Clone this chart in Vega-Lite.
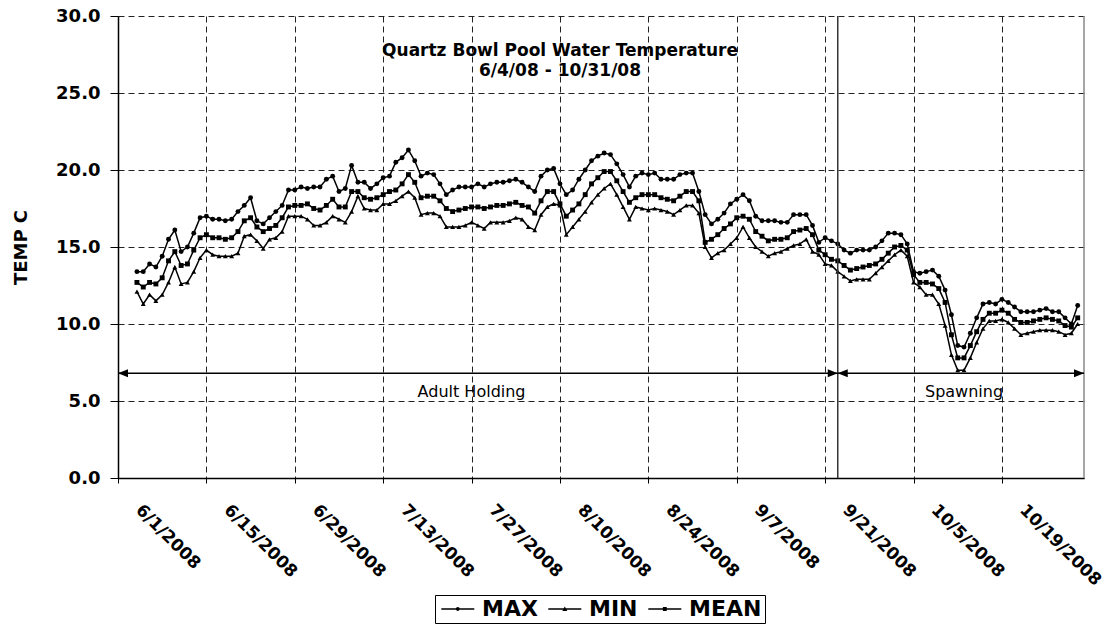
{
  "$schema": "https://vega.github.io/schema/vega-lite/v6.json",
  "width": 966,
  "height": 462,
  "autosize": "none",
  "padding": {"left": 118, "top": 16, "right": 23, "bottom": 147},
  "background": "white",
  "config": {"view": {"stroke": null}, "font": "DejaVu Sans"},
  "title": {
    "text": ["Quartz Bowl Pool Water Temperature", "6/4/08 - 10/31/08"],
    "font": "DejaVu Sans",
    "fontSize": 17,
    "fontWeight": "bold",
    "color": "black",
    "frame": "group",
    "anchor": "middle",
    "dx": -41,
    "offset": -73,
    "baseline": "top",
    "lineHeight": 20
  },
  "datasets": {
    "temps": [
      {"date": "2008-06-04", "MAX": 13.4, "MIN": 12.1, "MEAN": 12.7},
      {"date": "2008-06-05", "MAX": 13.4, "MIN": 11.3, "MEAN": 12.4},
      {"date": "2008-06-06", "MAX": 13.9, "MIN": 11.9, "MEAN": 12.7},
      {"date": "2008-06-07", "MAX": 13.7, "MIN": 11.5, "MEAN": 12.6},
      {"date": "2008-06-08", "MAX": 14.4, "MIN": 11.9, "MEAN": 13.0},
      {"date": "2008-06-09", "MAX": 15.5, "MIN": 12.7, "MEAN": 14.1},
      {"date": "2008-06-10", "MAX": 16.1, "MIN": 13.7, "MEAN": 14.7},
      {"date": "2008-06-11", "MAX": 14.7, "MIN": 12.6, "MEAN": 13.8},
      {"date": "2008-06-12", "MAX": 15.0, "MIN": 12.7, "MEAN": 13.9},
      {"date": "2008-06-13", "MAX": 15.9, "MIN": 13.4, "MEAN": 14.8},
      {"date": "2008-06-14", "MAX": 16.9, "MIN": 14.3, "MEAN": 15.6},
      {"date": "2008-06-15", "MAX": 17.0, "MIN": 14.8, "MEAN": 15.8},
      {"date": "2008-06-16", "MAX": 16.8, "MIN": 14.5, "MEAN": 15.6},
      {"date": "2008-06-17", "MAX": 16.8, "MIN": 14.4, "MEAN": 15.6},
      {"date": "2008-06-18", "MAX": 16.7, "MIN": 14.4, "MEAN": 15.5},
      {"date": "2008-06-19", "MAX": 16.8, "MIN": 14.4, "MEAN": 15.6},
      {"date": "2008-06-20", "MAX": 17.3, "MIN": 14.6, "MEAN": 16.0},
      {"date": "2008-06-21", "MAX": 17.7, "MIN": 15.7, "MEAN": 16.7},
      {"date": "2008-06-22", "MAX": 18.2, "MIN": 15.8, "MEAN": 16.9},
      {"date": "2008-06-23", "MAX": 16.7, "MIN": 15.4, "MEAN": 16.3},
      {"date": "2008-06-24", "MAX": 16.5, "MIN": 14.9, "MEAN": 16.0},
      {"date": "2008-06-25", "MAX": 16.9, "MIN": 15.5, "MEAN": 16.2},
      {"date": "2008-06-26", "MAX": 17.3, "MIN": 15.6, "MEAN": 16.4},
      {"date": "2008-06-27", "MAX": 17.7, "MIN": 16.0, "MEAN": 16.9},
      {"date": "2008-06-28", "MAX": 18.7, "MIN": 17.0, "MEAN": 17.6},
      {"date": "2008-06-29", "MAX": 18.7, "MIN": 17.0, "MEAN": 17.7},
      {"date": "2008-06-30", "MAX": 18.9, "MIN": 17.0, "MEAN": 17.7},
      {"date": "2008-07-01", "MAX": 18.8, "MIN": 16.8, "MEAN": 17.8},
      {"date": "2008-07-02", "MAX": 18.9, "MIN": 16.4, "MEAN": 17.5},
      {"date": "2008-07-03", "MAX": 18.9, "MIN": 16.4, "MEAN": 17.4},
      {"date": "2008-07-04", "MAX": 19.4, "MIN": 16.6, "MEAN": 17.7},
      {"date": "2008-07-05", "MAX": 19.6, "MIN": 17.0, "MEAN": 18.1},
      {"date": "2008-07-06", "MAX": 18.6, "MIN": 16.8, "MEAN": 17.6},
      {"date": "2008-07-07", "MAX": 18.8, "MIN": 16.6, "MEAN": 17.6},
      {"date": "2008-07-08", "MAX": 20.3, "MIN": 17.3, "MEAN": 18.6},
      {"date": "2008-07-09", "MAX": 19.2, "MIN": 18.3, "MEAN": 18.6},
      {"date": "2008-07-10", "MAX": 19.2, "MIN": 17.5, "MEAN": 18.2},
      {"date": "2008-07-11", "MAX": 18.8, "MIN": 17.4, "MEAN": 18.1},
      {"date": "2008-07-12", "MAX": 19.1, "MIN": 17.4, "MEAN": 18.2},
      {"date": "2008-07-13", "MAX": 19.5, "MIN": 17.8, "MEAN": 18.4},
      {"date": "2008-07-14", "MAX": 19.6, "MIN": 17.8, "MEAN": 18.6},
      {"date": "2008-07-15", "MAX": 20.5, "MIN": 18.0, "MEAN": 18.7},
      {"date": "2008-07-16", "MAX": 20.8, "MIN": 18.3, "MEAN": 19.1},
      {"date": "2008-07-17", "MAX": 21.3, "MIN": 18.6, "MEAN": 19.7},
      {"date": "2008-07-18", "MAX": 20.6, "MIN": 18.2, "MEAN": 19.2},
      {"date": "2008-07-19", "MAX": 19.6, "MIN": 17.1, "MEAN": 18.2},
      {"date": "2008-07-20", "MAX": 19.8, "MIN": 17.2, "MEAN": 18.3},
      {"date": "2008-07-21", "MAX": 19.7, "MIN": 17.2, "MEAN": 18.3},
      {"date": "2008-07-22", "MAX": 19.1, "MIN": 17.0, "MEAN": 18.0},
      {"date": "2008-07-23", "MAX": 18.4, "MIN": 16.3, "MEAN": 17.5},
      {"date": "2008-07-24", "MAX": 18.7, "MIN": 16.3, "MEAN": 17.3},
      {"date": "2008-07-25", "MAX": 18.9, "MIN": 16.3, "MEAN": 17.4},
      {"date": "2008-07-26", "MAX": 18.9, "MIN": 16.4, "MEAN": 17.5},
      {"date": "2008-07-27", "MAX": 18.9, "MIN": 16.6, "MEAN": 17.6},
      {"date": "2008-07-28", "MAX": 19.1, "MIN": 16.4, "MEAN": 17.6},
      {"date": "2008-07-29", "MAX": 18.9, "MIN": 16.2, "MEAN": 17.5},
      {"date": "2008-07-30", "MAX": 19.1, "MIN": 16.6, "MEAN": 17.6},
      {"date": "2008-07-31", "MAX": 19.2, "MIN": 16.6, "MEAN": 17.7},
      {"date": "2008-08-01", "MAX": 19.2, "MIN": 16.6, "MEAN": 17.7},
      {"date": "2008-08-02", "MAX": 19.3, "MIN": 16.7, "MEAN": 17.8},
      {"date": "2008-08-03", "MAX": 19.4, "MIN": 16.9, "MEAN": 17.9},
      {"date": "2008-08-04", "MAX": 19.2, "MIN": 16.8, "MEAN": 17.7},
      {"date": "2008-08-05", "MAX": 18.9, "MIN": 16.3, "MEAN": 17.6},
      {"date": "2008-08-06", "MAX": 18.6, "MIN": 16.1, "MEAN": 17.2},
      {"date": "2008-08-07", "MAX": 19.6, "MIN": 17.1, "MEAN": 18.0},
      {"date": "2008-08-08", "MAX": 20.0, "MIN": 17.6, "MEAN": 18.6},
      {"date": "2008-08-09", "MAX": 20.1, "MIN": 17.8, "MEAN": 18.6},
      {"date": "2008-08-10", "MAX": 19.1, "MIN": 17.7, "MEAN": 17.8},
      {"date": "2008-08-11", "MAX": 18.4, "MIN": 15.8, "MEAN": 17.0},
      {"date": "2008-08-12", "MAX": 18.7, "MIN": 16.3, "MEAN": 17.4},
      {"date": "2008-08-13", "MAX": 19.4, "MIN": 16.8, "MEAN": 17.8},
      {"date": "2008-08-14", "MAX": 20.0, "MIN": 17.3, "MEAN": 18.4},
      {"date": "2008-08-15", "MAX": 20.6, "MIN": 17.9, "MEAN": 19.1},
      {"date": "2008-08-16", "MAX": 20.9, "MIN": 18.4, "MEAN": 19.5},
      {"date": "2008-08-17", "MAX": 21.1, "MIN": 18.8, "MEAN": 19.9},
      {"date": "2008-08-18", "MAX": 21.0, "MIN": 19.1, "MEAN": 19.9},
      {"date": "2008-08-19", "MAX": 20.4, "MIN": 18.4, "MEAN": 19.3},
      {"date": "2008-08-20", "MAX": 19.7, "MIN": 17.6, "MEAN": 18.6},
      {"date": "2008-08-21", "MAX": 18.9, "MIN": 16.8, "MEAN": 17.9},
      {"date": "2008-08-22", "MAX": 19.6, "MIN": 17.6, "MEAN": 18.2},
      {"date": "2008-08-23", "MAX": 19.8, "MIN": 17.5, "MEAN": 18.4},
      {"date": "2008-08-24", "MAX": 19.7, "MIN": 17.4, "MEAN": 18.4},
      {"date": "2008-08-25", "MAX": 19.8, "MIN": 17.5, "MEAN": 18.4},
      {"date": "2008-08-26", "MAX": 19.4, "MIN": 17.4, "MEAN": 18.2},
      {"date": "2008-08-27", "MAX": 19.4, "MIN": 17.3, "MEAN": 18.1},
      {"date": "2008-08-28", "MAX": 19.4, "MIN": 17.1, "MEAN": 18.0},
      {"date": "2008-08-29", "MAX": 19.7, "MIN": 17.4, "MEAN": 18.3},
      {"date": "2008-08-30", "MAX": 19.8, "MIN": 17.7, "MEAN": 18.6},
      {"date": "2008-08-31", "MAX": 19.8, "MIN": 17.7, "MEAN": 18.6},
      {"date": "2008-09-01", "MAX": 18.6, "MIN": 17.2, "MEAN": 18.0},
      {"date": "2008-09-02", "MAX": 17.1, "MIN": 15.0, "MEAN": 15.3},
      {"date": "2008-09-03", "MAX": 16.5, "MIN": 14.3, "MEAN": 15.5},
      {"date": "2008-09-04", "MAX": 16.8, "MIN": 14.6, "MEAN": 15.8},
      {"date": "2008-09-05", "MAX": 17.2, "MIN": 14.8, "MEAN": 16.2},
      {"date": "2008-09-06", "MAX": 17.8, "MIN": 15.2, "MEAN": 16.5},
      {"date": "2008-09-07", "MAX": 18.1, "MIN": 15.6, "MEAN": 16.9},
      {"date": "2008-09-08", "MAX": 18.4, "MIN": 16.3, "MEAN": 17.0},
      {"date": "2008-09-09", "MAX": 18.0, "MIN": 15.6, "MEAN": 16.8},
      {"date": "2008-09-10", "MAX": 17.0, "MIN": 15.0, "MEAN": 16.0},
      {"date": "2008-09-11", "MAX": 16.7, "MIN": 14.7, "MEAN": 15.7},
      {"date": "2008-09-12", "MAX": 16.7, "MIN": 14.4, "MEAN": 15.4},
      {"date": "2008-09-13", "MAX": 16.7, "MIN": 14.6, "MEAN": 15.5},
      {"date": "2008-09-14", "MAX": 16.6, "MIN": 14.7, "MEAN": 15.5},
      {"date": "2008-09-15", "MAX": 16.6, "MIN": 14.9, "MEAN": 15.6},
      {"date": "2008-09-16", "MAX": 17.1, "MIN": 15.1, "MEAN": 16.0},
      {"date": "2008-09-17", "MAX": 17.1, "MIN": 15.2, "MEAN": 16.1},
      {"date": "2008-09-18", "MAX": 17.1, "MIN": 15.5, "MEAN": 16.2},
      {"date": "2008-09-19", "MAX": 16.4, "MIN": 14.7, "MEAN": 15.8},
      {"date": "2008-09-20", "MAX": 15.3, "MIN": 14.5, "MEAN": 14.8},
      {"date": "2008-09-21", "MAX": 15.6, "MIN": 13.9, "MEAN": 14.5},
      {"date": "2008-09-22", "MAX": 15.4, "MIN": 13.8, "MEAN": 14.2},
      {"date": "2008-09-23", "MAX": 15.2, "MIN": 13.4, "MEAN": 14.1},
      {"date": "2008-09-24", "MAX": 14.8, "MIN": 13.1, "MEAN": 13.8},
      {"date": "2008-09-25", "MAX": 14.6, "MIN": 12.8, "MEAN": 13.5},
      {"date": "2008-09-26", "MAX": 14.8, "MIN": 12.9, "MEAN": 13.6},
      {"date": "2008-09-27", "MAX": 14.8, "MIN": 12.9, "MEAN": 13.7},
      {"date": "2008-09-28", "MAX": 14.8, "MIN": 12.9, "MEAN": 13.8},
      {"date": "2008-09-29", "MAX": 15.0, "MIN": 13.3, "MEAN": 13.9},
      {"date": "2008-09-30", "MAX": 15.4, "MIN": 13.7, "MEAN": 14.2},
      {"date": "2008-10-01", "MAX": 15.9, "MIN": 14.1, "MEAN": 14.6},
      {"date": "2008-10-02", "MAX": 15.9, "MIN": 14.5, "MEAN": 15.0},
      {"date": "2008-10-03", "MAX": 15.8, "MIN": 14.8, "MEAN": 15.1},
      {"date": "2008-10-04", "MAX": 15.2, "MIN": 14.4, "MEAN": 14.8},
      {"date": "2008-10-05", "MAX": 13.4, "MIN": 12.7, "MEAN": 13.2},
      {"date": "2008-10-06", "MAX": 13.3, "MIN": 12.4, "MEAN": 12.7},
      {"date": "2008-10-07", "MAX": 13.4, "MIN": 11.9, "MEAN": 12.7},
      {"date": "2008-10-08", "MAX": 13.5, "MIN": 11.9, "MEAN": 12.6},
      {"date": "2008-10-09", "MAX": 13.1, "MIN": 11.3, "MEAN": 12.3},
      {"date": "2008-10-10", "MAX": 12.2, "MIN": 9.9, "MEAN": 11.4},
      {"date": "2008-10-11", "MAX": 10.6, "MIN": 8.0, "MEAN": 9.3},
      {"date": "2008-10-12", "MAX": 8.6, "MIN": 7.0, "MEAN": 7.8},
      {"date": "2008-10-13", "MAX": 8.5, "MIN": 7.0, "MEAN": 7.8},
      {"date": "2008-10-14", "MAX": 9.4, "MIN": 7.8, "MEAN": 8.6},
      {"date": "2008-10-15", "MAX": 10.4, "MIN": 8.8, "MEAN": 9.5},
      {"date": "2008-10-16", "MAX": 11.3, "MIN": 9.7, "MEAN": 10.3},
      {"date": "2008-10-17", "MAX": 11.4, "MIN": 10.2, "MEAN": 10.7},
      {"date": "2008-10-18", "MAX": 11.3, "MIN": 10.2, "MEAN": 10.7},
      {"date": "2008-10-19", "MAX": 11.6, "MIN": 10.3, "MEAN": 10.9},
      {"date": "2008-10-20", "MAX": 11.4, "MIN": 10.1, "MEAN": 10.7},
      {"date": "2008-10-21", "MAX": 11.1, "MIN": 9.7, "MEAN": 10.3},
      {"date": "2008-10-22", "MAX": 10.8, "MIN": 9.3, "MEAN": 10.1},
      {"date": "2008-10-23", "MAX": 10.8, "MIN": 9.4, "MEAN": 10.1},
      {"date": "2008-10-24", "MAX": 10.8, "MIN": 9.5, "MEAN": 10.2},
      {"date": "2008-10-25", "MAX": 10.9, "MIN": 9.6, "MEAN": 10.3},
      {"date": "2008-10-26", "MAX": 11.0, "MIN": 9.6, "MEAN": 10.4},
      {"date": "2008-10-27", "MAX": 10.8, "MIN": 9.6, "MEAN": 10.3},
      {"date": "2008-10-28", "MAX": 10.8, "MIN": 9.5, "MEAN": 10.2},
      {"date": "2008-10-29", "MAX": 10.4, "MIN": 9.3, "MEAN": 9.9},
      {"date": "2008-10-30", "MAX": 10.0, "MIN": 9.4, "MEAN": 9.8},
      {"date": "2008-10-31", "MAX": 11.2, "MIN": 10.0, "MEAN": 10.4}
    ],
    "periods": [
      {"period": "Adult Holding", "start": "2008-06-01", "end": "2008-09-23", "mid": "2008-07-27"},
      {"period": "Spawning", "start": "2008-09-23", "end": "2008-11-01", "mid": "2008-10-13"}
    ]
  },
  "layer": [
    {
      "data": {"name": "temps"},
      "transform": [{"fold": ["MAX", "MIN", "MEAN"], "as": ["series", "temp"]}],
      "mark": {"type": "line", "color": "black", "strokeWidth": 1.5},
      "encoding": {
        "x": {
          "field": "date",
          "type": "temporal",
          "scale": {
            "type": "utc",
            "domain": [
              {"year": 2008, "month": 6, "date": 1, "utc": true},
              {"year": 2008, "month": 11, "date": 1, "utc": true}
            ]
          },
          "axis": {
            "title": null,
            "values": [
              {"year": 2008, "month": 6, "date": 1, "utc": true},
              {"year": 2008, "month": 6, "date": 15, "utc": true},
              {"year": 2008, "month": 6, "date": 29, "utc": true},
              {"year": 2008, "month": 7, "date": 13, "utc": true},
              {"year": 2008, "month": 7, "date": 27, "utc": true},
              {"year": 2008, "month": 8, "date": 10, "utc": true},
              {"year": 2008, "month": 8, "date": 24, "utc": true},
              {"year": 2008, "month": 9, "date": 7, "utc": true},
              {"year": 2008, "month": 9, "date": 21, "utc": true},
              {"year": 2008, "month": 10, "date": 5, "utc": true},
              {"year": 2008, "month": 10, "date": 19, "utc": true}
            ],
            "labelExpr": "utcFormat(datum.value, '%-m/%-d/%Y')",
            "labelAngle": 45,
            "labelAlign": "left",
            "labelBaseline": "middle",
            "labelPadding": 24,
            "labelOffset": 20,
            "labelFont": "DejaVu Sans",
            "labelFontSize": 17,
            "labelFontWeight": "bold",
            "labelColor": "black",
            "labelOverlap": false,
            "labelFlush": false,
            "domainColor": "black",
            "domainWidth": 1.5,
            "tickColor": "black",
            "tickSize": 5,
            "tickWidth": 1,
            "grid": true,
            "gridColor": "#222",
            "gridDash": [6, 4],
            "gridWidth": 1
          }
        },
        "y": {
          "field": "temp",
          "type": "quantitative",
          "scale": {"domain": [0, 30], "nice": false, "zero": true},
          "axis": {
            "title": "TEMP C",
            "values": [0, 5, 10, 15, 20, 25, 30],
            "format": ".1f",
            "labelFont": "DejaVu Sans",
            "labelFontSize": 18,
            "labelFontWeight": "bold",
            "labelColor": "black",
            "labelPadding": 10,
            "labelFlush": false,
            "labelOverlap": false,
            "domainColor": "black",
            "domainWidth": 1.5,
            "tickColor": "black",
            "tickSize": 8,
            "grid": true,
            "gridColor": "#222",
            "gridDash": [6, 4],
            "gridWidth": 1,
            "titleFont": "DejaVu Sans",
            "titleFontSize": 18,
            "titleFontWeight": "bold",
            "titleColor": "black",
            "titleAngle": -90,
            "titleX": -97,
            "titleY": 231,
            "titleAlign": "center",
            "titleBaseline": "middle"
          }
        },
        "detail": {"field": "series"}
      }
    },
    {
      "data": {"name": "temps"},
      "transform": [{"fold": ["MAX", "MIN", "MEAN"], "as": ["series", "temp"]}],
      "mark": {"type": "point", "filled": true, "color": "black", "size": 24, "opacity": 1},
      "encoding": {
        "x": {"field": "date", "type": "temporal"},
        "y": {"field": "temp", "type": "quantitative"},
        "shape": {
          "field": "series",
          "scale": {"domain": ["MAX", "MIN", "MEAN"], "range": ["circle", "triangle-up", "square"]},
          "legend": null
        }
      }
    },
    {
      "data": {"name": "temps"},
      "transform": [{"fold": ["MAX", "MIN", "MEAN"], "as": ["series", "temp"]}],
      "mark": {"type": "point", "filled": true, "color": "black", "opacity": 0},
      "encoding": {
        "x": {"field": "date", "type": "temporal"},
        "y": {"field": "temp", "type": "quantitative"},
        "shape": {
          "field": "series",
          "scale": {
            "domain": ["MAX", "MIN", "MEAN"],
            "range": [
              "M-1.4,-0.13H4.6V0.13H-1.4ZM1.25,0A0.35,0.35 0 1,1 1.95,0A0.35,0.35 0 1,1 1.25,0Z",
              "M-1.4,-0.13H4.6V0.13H-1.4ZM1.6,-0.45L2.05,0.35L1.15,0.35Z",
              "M-1.4,-0.13H4.6V0.13H-1.4ZM1.25,-0.35H1.95V0.35H1.25Z"
            ]
          },
          "legend": {
            "title": null,
            "orient": "none",
            "direction": "horizontal",
            "legendX": 317,
            "legendY": 579,
            "padding": 3,
            "strokeColor": "black",
            "fillColor": "white",
            "symbolSize": 121,
            "symbolOpacity": 1,
            "symbolFillColor": "black",
            "symbolStrokeColor": "black",
            "symbolStrokeWidth": 0,
            "labelOffset": 22,
            "labelFont": "DejaVu Sans",
            "labelFontSize": 22,
            "labelFontWeight": "bold",
            "labelColor": "black",
            "columnPadding": 7,
            "encode": {
              "symbols": {
                "update": {
                  "fill": {"value": "black"},
                  "opacity": {"value": 1},
                  "fillOpacity": {"value": 1}
                }
              }
            }
          }
        }
      }
    },
    {
      "data": {"name": "periods"},
      "transform": [{"filter": "datum.period === 'Spawning'"}],
      "mark": {"type": "rule", "color": "#333", "strokeWidth": 1.5},
      "encoding": {"x": {"field": "start", "type": "temporal"}}
    },
    {
      "data": {"name": "periods"},
      "transform": [{"filter": "datum.period === 'Spawning'"}],
      "mark": {"type": "rule", "color": "#888", "strokeWidth": 1.5},
      "encoding": {"x": {"field": "end", "type": "temporal"}}
    },
    {
      "data": {"name": "periods"},
      "mark": {"type": "rule", "color": "black", "strokeWidth": 1.5},
      "encoding": {
        "x": {"field": "start", "type": "temporal"},
        "x2": {"field": "end"},
        "y": {"datum": 6.8}
      }
    },
    {
      "data": {"name": "periods"},
      "mark": {"type": "point", "filled": true, "color": "black", "opacity": 1, "size": 100, "shape": "M0,0L2,-0.8L2,0.8Z"},
      "encoding": {
        "x": {"field": "start", "type": "temporal"},
        "y": {"datum": 6.8}
      }
    },
    {
      "data": {"name": "periods"},
      "mark": {"type": "point", "filled": true, "color": "black", "opacity": 1, "size": 100, "shape": "M0,0L-2,-0.8L-2,0.8Z"},
      "encoding": {
        "x": {"field": "end", "type": "temporal"},
        "y": {"datum": 6.8}
      }
    },
    {
      "data": {"name": "periods"},
      "mark": {"type": "text", "font": "DejaVu Sans", "fontSize": 16, "color": "black", "align": "center", "baseline": "middle"},
      "encoding": {
        "x": {"field": "mid", "type": "temporal"},
        "y": {"datum": 5.6},
        "text": {"field": "period"}
      }
    }
  ],
  "resolve": {"scale": {"shape": "independent"}}
}
